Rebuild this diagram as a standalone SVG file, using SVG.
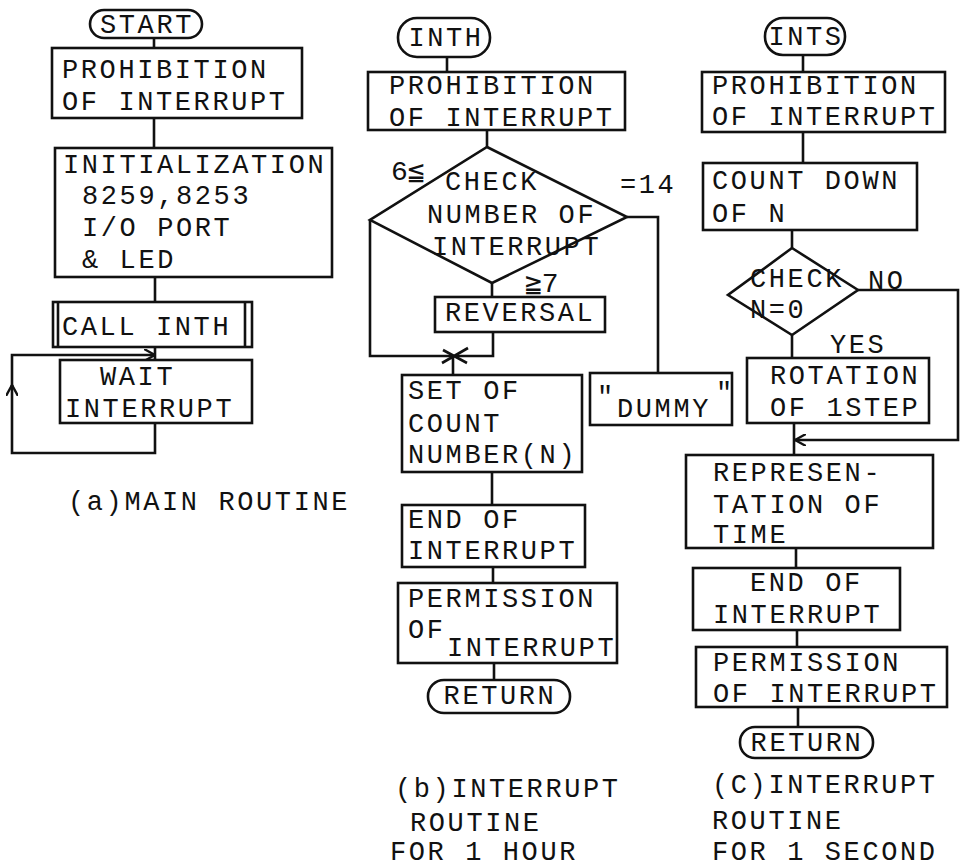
<svg xmlns="http://www.w3.org/2000/svg" width="961" height="867" viewBox="0 0 961 867">
<style>
.b{fill:#fff;stroke:#111;stroke-width:2.6}
.c{fill:none;stroke:#111;stroke-width:2.6}
text{font-family:"Liberation Mono","Courier New","DejaVu Sans Mono",monospace;font-size:27px;letter-spacing:2.6px;fill:#111}
.s{font-size:28px;letter-spacing:0}
</style>
<defs>
<marker id="ar" viewBox="0 0 12 12" refX="11" refY="6" markerWidth="12" markerHeight="12" markerUnits="userSpaceOnUse" orient="auto">
<path d="M0,0 L11,6 L0,12" fill="none" stroke="#111" stroke-width="2.4"/>
</marker>
</defs>
<rect width="961" height="867" fill="#fff"/>
<g id="connectors">
<path class="c" d="M154,38 V48 M154,118 V148 M155,277 V302 M155,347 V360"/>
<path class="c" d="M155,423 V453 H12 V385" marker-end="url(#ar)"/>
<path class="c" d="M12,387 V355 H155" marker-end="url(#ar)"/>
<path class="c" d="M447,57 V72 M487,130 V147 M492,283 V297"/>
<path class="c" d="M370,220 V356 H493 V332"/>
<path class="c" d="M442,363 L468,348 M443,350 L467,363 M453,356 V375"/>
<path class="c" d="M627,217 H658 V373"/>
<path class="c" d="M492,472 V505 M493,567 V583 M494,663 V680"/>
<path class="c" d="M803,55 V72 M803,132 V163 M792,230 V248 M792,335 V358 M794,423 V455"/>
<path class="c" d="M858,290 H958 V440 H795" marker-end="url(#ar)"/>
<path class="c" d="M796,548 V568 M797,630 V647 M798,707 V727"/>
</g>
<g id="start"><rect class="b" x="90" y="10" width="112" height="28" rx="14"/><text x="147" y="33" text-anchor="middle">START</text></g>
<g id="a_prohibit"><rect class="b" x="52" y="48" width="250" height="70"/><text x="62" y="78">PROHIBITION</text><text x="62" y="110">OF INTERRUPT</text></g>
<g id="a_init"><rect class="b" x="55" y="148" width="277" height="129"/><text x="63" y="173">INITIALIZATION</text><text x="82" y="204">8259,8253</text><text x="82" y="236">I/O PORT</text><text x="82" y="268">&amp; LED</text></g>
<g id="a_call"><rect class="b" x="53" y="302" width="199" height="45"/><path class="c" d="M58,302 V347 M245,302 V347"/><text x="62" y="335">CALL INTH</text></g>
<g id="a_wait"><rect class="b" x="60" y="360" width="192" height="63"/><text x="100" y="385">WAIT</text><text x="65" y="417">INTERRUPT</text></g>
<g id="a_label"><text x="68" y="510">(a)MAIN ROUTINE</text></g>

<g id="inth"><rect class="b" x="398" y="18" width="92" height="39" rx="19"/><text x="446" y="46" text-anchor="middle">INTH</text></g>
<g id="b_prohibit"><rect class="b" x="368" y="72" width="257" height="58"/><text x="389" y="94">PROHIBITION</text><text x="389" y="126">OF INTERRUPT</text></g>
<g id="b_check"><polygon class="b" points="487,147 627,217 492,283 370,220"/><text x="445" y="190">CHECK</text><text x="427" y="223">NUMBER OF</text><text x="432" y="255">INTERRUPT</text>
<text class="s" x="391" y="180">6≦</text><text x="620" y="193">=14</text><text class="s" x="525" y="292">≧7</text></g>
<g id="b_reversal"><rect class="b" x="435" y="297" width="170" height="35"/><text x="445" y="321">REVERSAL</text></g>
<g id="b_set"><rect class="b" x="402" y="375" width="180" height="97"/><text x="408" y="399">SET OF</text><text x="408" y="432">COUNT</text><text x="408" y="463">NUMBER(N)</text></g>
<g id="b_dummy"><rect class="b" x="590" y="373" width="142" height="52"/><text x="597" y="405">"</text><text x="617" y="417">DUMMY</text><text x="716" y="401">"</text></g>
<g id="b_end"><rect class="b" x="402" y="505" width="183" height="62"/><text x="408" y="528">END OF</text><text x="408" y="559">INTERRUPT</text></g>
<g id="b_permit"><rect class="b" x="398" y="583" width="219" height="80"/><text x="408" y="607">PERMISSION</text><text x="408" y="638">OF</text><text x="447" y="656">INTERRUPT</text></g>
<g id="b_return"><rect class="b" x="428" y="680" width="142" height="33" rx="16"/><text x="500" y="704" text-anchor="middle">RETURN</text></g>
<g id="b_label"><text x="395" y="797">(b)INTERRUPT</text><text x="410" y="831">ROUTINE</text><text x="390" y="860">FOR 1 HOUR</text></g>

<g id="ints"><rect class="b" x="765" y="18" width="80" height="37" rx="18"/><text x="806" y="45" text-anchor="middle">INTS</text></g>
<g id="c_prohibit"><rect class="b" x="702" y="72" width="243" height="60"/><text x="712" y="94">PROHIBITION</text><text x="712" y="125">OF INTERRUPT</text></g>
<g id="c_count"><rect class="b" x="703" y="163" width="214" height="67"/><text x="712" y="189">COUNT DOWN</text><text x="712" y="222">OF N</text></g>
<g id="c_check"><polygon class="b" points="792,248 858,290 792,335 728,295"/><text x="750" y="287">CHECK</text><text x="750" y="318">N=0</text><text x="868" y="289">NO</text><text x="830" y="353">YES</text></g>
<g id="c_rotation"><rect class="b" x="747" y="358" width="182" height="65"/><text x="770" y="384">ROTATION</text><text x="770" y="416">OF 1STEP</text></g>
<g id="c_repr"><rect class="b" x="686" y="455" width="247" height="93"/><text x="713" y="481">REPRESEN-</text><text x="713" y="513">TATION OF</text><text x="713" y="543">TIME</text></g>
<g id="c_end"><rect class="b" x="693" y="568" width="207" height="62"/><text x="750" y="591">END OF</text><text x="713" y="623">INTERRUPT</text></g>
<g id="c_permit"><rect class="b" x="696" y="647" width="251" height="60"/><text x="713" y="671">PERMISSION</text><text x="713" y="702">OF INTERRUPT</text></g>
<g id="c_return"><rect class="b" x="740" y="727" width="133" height="31" rx="15"/><text x="807" y="751" text-anchor="middle">RETURN</text></g>
<g id="c_label"><text x="712" y="793">(C)INTERRUPT</text><text x="712" y="829">ROUTINE</text><text x="712" y="860">FOR 1 SECOND</text></g>
</svg>
